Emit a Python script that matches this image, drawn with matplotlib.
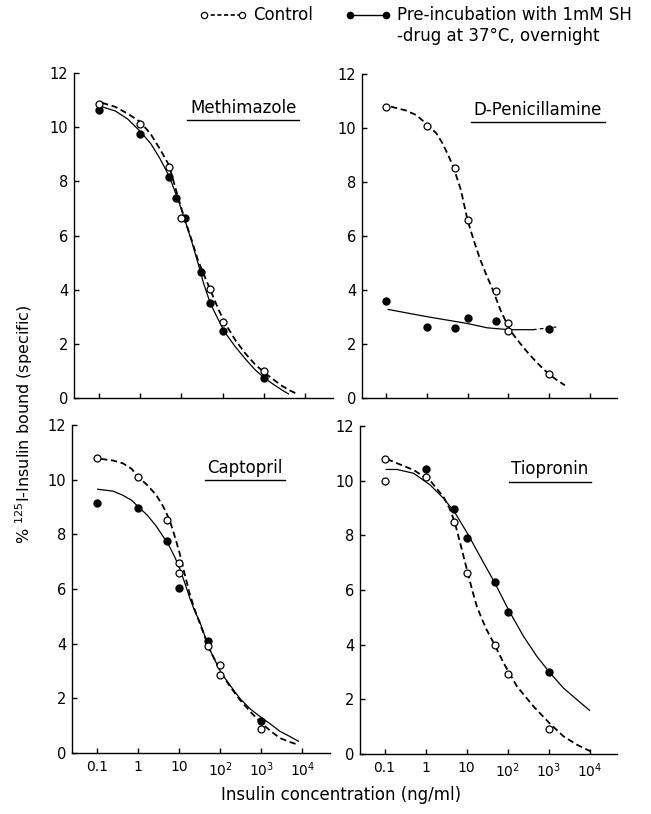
import matplotlib
matplotlib.use("Agg")
import matplotlib.pyplot as plt
from matplotlib.lines import Line2D
from matplotlib.ticker import FixedLocator, NullLocator

plt.rcParams['font.family'] = ['DejaVu Sans', 'Liberation Sans']
plt.rcParams['mathtext.default'] = 'regular'

# x axis ticks (ng/ml)
tick_vals = [0.1, 1, 10, 100, 1000, 10000]
tick_labels = ['0.1', '1', '10', '$10^2$', '$10^3$', '$10^4$']

# --- Methimazole ---
meth_ctrl_x = [0.1, 1, 5, 10, 50, 100, 1000]
meth_ctrl_y = [10.85, 10.13, 8.53, 6.63, 4.02, 2.79, 0.98]
meth_pre_x = [0.1, 1, 5, 7.5, 12, 30, 50, 100, 1000]
meth_pre_y = [10.65, 9.76, 8.16, 7.38, 6.63, 4.65, 3.51, 2.46, 0.74]
meth_ctrl_fit_x = [0.12, 0.25, 0.5, 1.0, 1.8, 3, 5, 8, 12, 18, 25, 35, 50, 75, 110, 200,
                   350, 600, 1000, 1700, 2700, 4200, 6300]
meth_ctrl_fit_y = [10.9, 10.75, 10.5, 10.2, 9.75, 9.2, 8.6, 7.5, 6.6, 5.8, 5.1, 4.55, 4.0,
                   3.35, 2.8, 2.15, 1.65, 1.25, 0.95, 0.68, 0.45, 0.28, 0.15]
meth_pre_fit_x = [0.12, 0.25, 0.5, 1.0, 1.8, 3, 5, 8, 12, 18, 25, 35, 50, 75, 110, 200,
                  350, 600, 1000, 1700, 2700, 3900]
meth_pre_fit_y = [10.75, 10.6, 10.3, 9.85, 9.4, 8.85, 8.2, 7.4, 6.6, 5.75, 5.0, 4.2, 3.5,
                  2.95, 2.45, 1.9, 1.45, 1.05, 0.75, 0.5, 0.3, 0.15]

# --- D-Penicillamine ---
pen_ctrl_x = [0.1, 1, 5, 10, 50, 100, 100, 1000]
pen_ctrl_y = [10.79, 10.09, 8.53, 6.61, 3.98, 2.76, 2.48, 0.9]
pen_pre_x = [0.1, 1, 5, 10, 50, 1000]
pen_pre_y = [3.58, 2.63, 2.6, 2.97, 2.86, 2.57]
pen_ctrl_fit_x = [0.13, 0.3, 0.54, 1.08, 1.7, 2.4, 3.3, 4.5, 6.8, 9.8, 14, 20, 28, 42, 64,
                  110, 200, 315, 550, 960, 1500, 2450]
pen_ctrl_fit_y = [10.79, 10.65, 10.48, 10.09, 9.8, 9.43, 9.0, 8.53, 7.7, 6.61, 5.85, 5.15,
                  4.6, 3.98, 3.25, 2.5, 2.0, 1.64, 1.25, 0.9, 0.68, 0.47]
pen_pre_fit_x = [0.11, 1.1, 9.8, 30, 100, 400]
pen_pre_fit_y = [3.28, 3.0, 2.76, 2.6, 2.53, 2.53]
pen_pre_ext_x = [400, 1500]
pen_pre_ext_y = [2.53, 2.63]

# --- Captopril ---
cap_ctrl_x = [0.1, 1, 5, 10, 10, 50, 100, 100, 1000]
cap_ctrl_y = [10.78, 10.09, 8.53, 6.94, 6.58, 3.92, 3.23, 2.86, 0.88]
cap_pre_x = [0.1, 1, 5, 10, 50, 1000]
cap_pre_y = [9.16, 8.95, 7.76, 6.05, 4.1, 1.16]
cap_ctrl_fit_x = [0.128, 0.25, 0.43, 0.7, 1.04, 1.7, 2.8, 4.2, 5.9, 8, 10.4, 14, 18, 24, 32,
                  56, 107, 180, 300, 550, 1000, 1700, 2800, 5000, 8000]
cap_ctrl_fit_y = [10.76, 10.7, 10.6, 10.4, 10.09, 9.8, 9.44, 9.0, 8.53, 7.9, 7.3, 6.5, 5.85,
                  5.25, 4.75, 3.78, 2.92, 2.4, 1.95, 1.5, 1.1, 0.8, 0.55, 0.4, 0.3]
cap_pre_fit_x = [0.106, 0.25, 0.42, 0.7, 1.04, 1.7, 2.8, 4.2, 5.9, 8, 10.4, 14, 18, 24, 32,
                 56, 107, 180, 300, 550, 1000, 1700, 2800, 5000, 8000]
cap_pre_fit_y = [9.65, 9.58, 9.44, 9.25, 9.0, 8.7, 8.3, 7.9, 7.55, 7.15, 6.75, 6.2, 5.7,
                 5.2, 4.8, 3.78, 2.92, 2.45, 2.0, 1.6, 1.3, 1.05, 0.8, 0.6, 0.43]

# --- Tiopronin ---
tio_ctrl_x = [0.1, 0.1, 1, 5, 10, 50, 100, 1000]
tio_ctrl_y = [10.79, 9.99, 10.12, 8.5, 6.64, 3.98, 2.92, 0.93]
tio_pre_x = [1, 5, 10, 50, 100, 1000]
tio_pre_y = [10.41, 8.98, 7.92, 6.28, 5.2, 3.0]
tio_ctrl_fit_x = [0.114, 0.51, 1.3, 2.75, 3.8, 5.1, 7.7, 10.6, 14, 17.8, 23, 31, 49, 80, 170,
                  430, 1050, 2300, 4900, 10500]
tio_ctrl_fit_y = [10.79, 10.39, 10.0, 9.4, 9.0, 8.5, 7.47, 6.64, 5.95, 5.4, 4.98, 4.54, 3.98,
                  3.33, 2.47, 1.74, 1.13, 0.65, 0.34, 0.1]
tio_pre_fit_x = [0.11, 0.2, 0.51, 1.3, 2.75, 5.1, 11, 21.5, 48, 106, 246, 520, 1040, 2320,
                 4900, 10000]
tio_pre_fit_y = [10.41, 10.41, 10.27, 9.84, 9.35, 8.85, 8.02, 7.22, 6.28, 5.27, 4.3, 3.57,
                 3.0, 2.41, 1.99, 1.6]

W, H = 651, 814
fig = plt.figure(figsize=(W / 100, H / 100), dpi=100)

DASH = (0, (3.5, 2))


def px_axes(left, right, top, bottom):
    return fig.add_axes([left / W, 1 - bottom / H, (right - left) / W, (bottom - top) / H])


def style_axes(ax, xlabels):
    ax.set_xscale('log')
    ax.set_xlim(10 ** -1.6, 10 ** 4.67)
    ax.set_ylim(0, 12)
    ax.spines['top'].set_visible(False)
    ax.spines['right'].set_visible(False)
    for s in ('left', 'bottom'):
        ax.spines[s].set_linewidth(1.0)
    ax.xaxis.set_major_locator(FixedLocator(tick_vals))
    ax.xaxis.set_minor_locator(NullLocator())
    ax.set_yticks(range(0, 13, 2))
    if xlabels:
        ax.set_xticklabels(tick_labels)
    else:
        ax.set_xticklabels([])
    ax.tick_params(direction='in', length=3.5, width=1.0)
    ax.tick_params(axis='y', labelsize=10.5, pad=4)
    ax.tick_params(axis='x', labelsize=10, pad=5)


def draw_panel(ax, cx, cy, px, py, cfx, cfy, pfx, pfy):
    ax.plot(cfx, cfy, color='black', lw=1.3, ls=DASH, zorder=2)
    ax.plot(pfx, pfy, color='black', lw=0.9, zorder=2)
    ax.plot(cx, cy, 'o', ms=5, mfc='white', mec='black', mew=0.9, zorder=4, clip_on=False)
    ax.plot(px, py, 'o', ms=5, mfc='black', mec='black', zorder=3, clip_on=False)


def underlined_title(ax, text, xc, yc, yline):
    t = ax.text(xc, yc, text, transform=ax.transAxes, ha='center', va='center', fontsize=12)
    fig.canvas.draw()
    bb = t.get_window_extent(fig.canvas.get_renderer()).transformed(ax.transAxes.inverted())
    ax.plot([bb.x0 - 0.01, bb.x1 + 0.01], [yline, yline], transform=ax.transAxes,
            color='black', lw=1.0, clip_on=False)


ax_meth = px_axes(74, 333, 73, 398)
ax_pen = px_axes(362, 617, 74, 398)
ax_cap = px_axes(72, 330, 425, 753)
ax_tio = px_axes(360, 617, 426, 754)

style_axes(ax_meth, False)
style_axes(ax_pen, False)
style_axes(ax_cap, True)
style_axes(ax_tio, True)

draw_panel(ax_meth, meth_ctrl_x, meth_ctrl_y, meth_pre_x, meth_pre_y,
           meth_ctrl_fit_x, meth_ctrl_fit_y, meth_pre_fit_x, meth_pre_fit_y)
draw_panel(ax_pen, pen_ctrl_x, pen_ctrl_y, pen_pre_x, pen_pre_y,
           pen_ctrl_fit_x, pen_ctrl_fit_y, pen_pre_fit_x, pen_pre_fit_y)
ax_pen.plot(pen_pre_ext_x, pen_pre_ext_y, color='black', lw=0.9, ls=(0, (3, 2.5)), zorder=2)
draw_panel(ax_cap, cap_ctrl_x, cap_ctrl_y, cap_pre_x, cap_pre_y,
           cap_ctrl_fit_x, cap_ctrl_fit_y, cap_pre_fit_x, cap_pre_fit_y)
draw_panel(ax_tio, tio_ctrl_x, tio_ctrl_y, tio_pre_x, tio_pre_y,
           tio_ctrl_fit_x, tio_ctrl_fit_y, tio_pre_fit_x, tio_pre_fit_y)

underlined_title(ax_meth, 'Methimazole', 0.653, 0.892, 0.855)
underlined_title(ax_pen, 'D-Penicillamine', 0.69, 0.889, 0.852)
underlined_title(ax_cap, 'Captopril', 0.67, 0.869, 0.832)
underlined_title(ax_tio, 'Tiopronin', 0.739, 0.869, 0.829)

# legend across the top
fig.add_artist(Line2D([204 / W, 242 / W], [1 - 15 / H] * 2, transform=fig.transFigure,
                      color='black', lw=1.2, ls=(0, (2.5, 1.5)), marker='o', ms=4.5,
                      mfc='white', mec='black', mew=0.9))
fig.text(253 / W, 1 - 15 / H, 'Control', ha='left', va='center', fontsize=12)
fig.add_artist(Line2D([350 / W, 386 / W], [1 - 15 / H] * 2, transform=fig.transFigure,
                      color='black', lw=1.0, marker='o', ms=4.5, mfc='black', mec='black'))
fig.text(397 / W, 1 - 15 / H, 'Pre-incubation with 1mM SH', ha='left', va='center', fontsize=12)
fig.text(397 / W, 1 - 36 / H, '-drug at 37°C, overnight', ha='left', va='center', fontsize=12)

fig.text(24 / W, 1 - 424 / H, '% $^{125}$I-Insulin bound (specific)', rotation=90,
         ha='center', va='center', fontsize=11.5)
fig.text(341 / W, 1 - 795 / H, 'Insulin concentration (ng/ml)', ha='center', va='center',
         fontsize=12)

fig.savefig('out.png', dpi=100, facecolor='white')
